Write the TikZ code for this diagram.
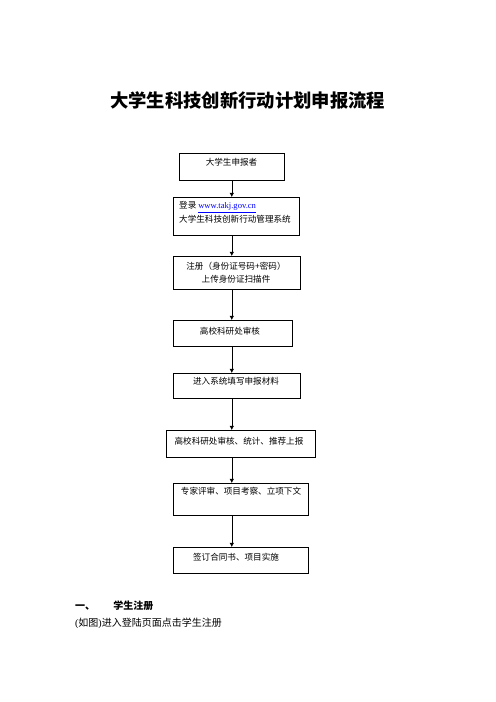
\documentclass[tikz,border=0pt]{standalone}
\usepackage{fontspec}
\setmainfont{Liberation Serif}
\newfontfamily\cjk{Noto Sans CJK SC}
\usetikzlibrary{arrows.meta}
\tikzset{
    box/.style 2 args={draw, line width=0.7pt, anchor=north west, inner sep=0pt,
        minimum width=#1*1.2pt, minimum height=#2*1.2pt},
    txt/.style={inner sep=0pt, font=\cjk\fontsize{10.3}{16}\selectfont},
    arr/.style={-{Latex[length=5pt,width=5.5pt]}, line width=0.7pt}
}
\begin{document}
\begin{tikzpicture}[x=1.2pt, y=-1.2pt]
    \useasboundingbox (0,0) rectangle (496,702);
    % title
    \node[inner sep=0pt, font=\cjk\bfseries\fontsize{22}{26}\selectfont] (title) at (247.5,100) {大学生科技创新行动计划申报流程};
    % boxes
    \node[box={105}{27}] (b1) at (179,153) {};
    \node[box={126}{38}] (b2) at (173,197) {};
    \node[box={127}{33}] (b3) at (173,256) {};
    \node[box={119}{26}] (b4) at (173,320) {};
    \node[box={127}{25}] (b5) at (173,373) {};
    \node[box={149}{27}] (b6) at (166,430) {};
    \node[box={135}{32}] (b7) at (173,483) {};
    \node[box={135}{26}] (b8) at (173,547) {};
    % texts
    \node[txt] (t1) at (231.5,162) {大学生申报者};
    \node[txt, anchor=west, align=left] (t2) at (179,212.4)
        {登录 {\rmfamily\color{blue}\underline{www.takj.gov.cn}}\\大学生科技创新行动管理系统};
    \node[txt, align=center] (t3) at (236,272.5) {注册（身份证号码+密码）\\上传身份证扫描件};
    \node[txt] (t4) at (230,331) {高校科研处审核};
    \node[txt] (t5) at (236,381.7) {进入系统填写申报材料};
    \node[txt] (t6) at (239,441) {高校科研处审核、统计、推荐上报};
    \node[txt] (t7) at (241,491.7) {专家评审、项目考察、立项下文};
    \node[txt] (t8) at (236,557.3) {签订合同书、项目实施};
    % arrows
    \foreach \a/\b in {b1/b2, b2/b3, b3/b4, b4/b5, b5/b6, b6/b7, b7/b8}
        \draw[arr] (\a.south -| b1.south) -- (\b.north -| b1.south);
    % text below
    \node[inner sep=0pt, anchor=west, font=\cjk\bfseries\fontsize{12}{15}\selectfont] (h1) at (75,606) {一、\hspace{22pt}学生注册};
    \node[inner sep=0pt, anchor=west, font=\cjk\fontsize{12}{15}\selectfont] (p1) at (75,623.3) {{\rmfamily(}如图{\rmfamily)}进入登陆页面点击学生注册};
\end{tikzpicture}
\end{document}
